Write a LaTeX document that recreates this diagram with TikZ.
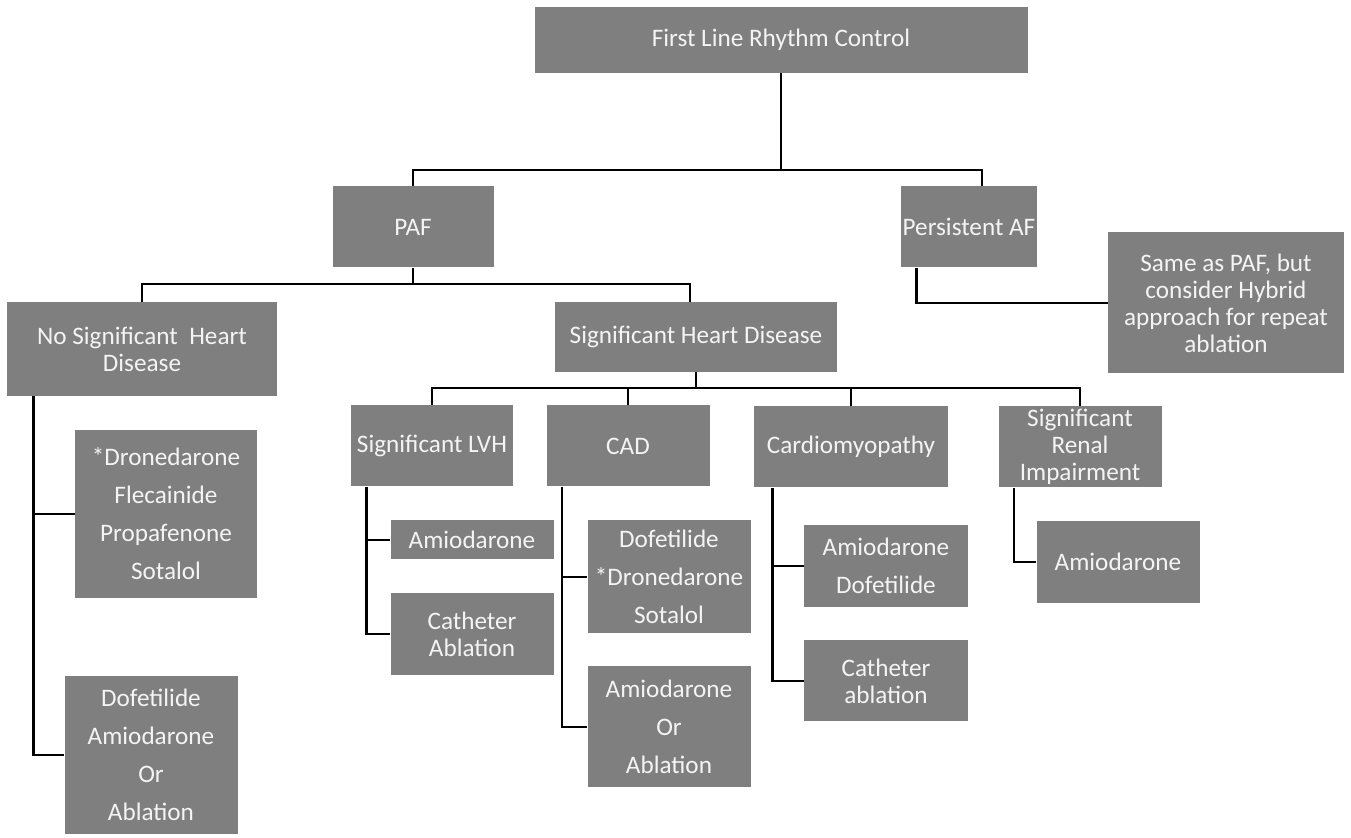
\documentclass[tikz,border=0pt]{standalone}
\usepackage{fontspec}
\setmainfont{Carlito}
\usepackage{tikz}
\usetikzlibrary{positioning, calc}
\definecolor{boxgray}{RGB}{127,127,127}
\definecolor{boxtext}{RGB}{244,244,244}
\tikzset{
  block/.style={rectangle, fill=boxgray, text=boxtext, align=center,
    inner sep=1pt, font=\fontsize{12.6}{13.5}\selectfont},
  listblock/.style={block, font=\fontsize{12.6}{19}\selectfont},
  link/.style={line width=1.3pt, color=black},
}

\begin{document}
\begin{tikzpicture}[x=0.5pt, y=-0.5pt]
  \useasboundingbox (0,0) rectangle (1351,838);

  % levels one and two
  \node[block, minimum width=246.5pt, minimum height=33pt] (top) at (781,40)
    {First Line Rhythm Control};
  \node[block, minimum width=80.5pt, minimum height=40.5pt] (paf) at (413,227) {PAF};
  \node[block, minimum width=68pt, minimum height=40.5pt] (persaf) at (969,227)
    {Persistent AF};
  \node[block, minimum width=118pt, minimum height=70.5pt] (same) at (1226,303)
    {Same as PAF, but\\consider Hybrid\\approach for repeat\\ablation};

  % PAF branches
  \node[block, minimum width=135pt, minimum height=47pt] (nosig) at (142,349)
    {No Significant~ Heart\\Disease};
  \node[block, minimum width=141pt, minimum height=35pt] (sighd) at (696,337)
    {Significant Heart Disease};
  \node[listblock, minimum width=91pt, minimum height=84pt] (nolista) at (166,514)
    {*Dronedarone\\Flecainide\\Propafenone\\Sotalol};
  \node[listblock, minimum width=86.5pt, minimum height=79pt] (nolistb) at (151,755)
    {Dofetilide\\Amiodarone\\Or\\Ablation};

  % significant heart disease groups
  \node[block, minimum width=81pt, minimum height=40.5pt] (lvh) at (432,446)
    {Significant LVH};
  \node[block, minimum width=81.5pt, minimum height=40.5pt] (cad) at (628,446) {CAD};
  \node[block, minimum width=97pt, minimum height=40.5pt] (cardio) at (851,447)
    {Cardiomyopathy};
  \node[block, minimum width=81.5pt, minimum height=40.5pt] (renal) at (1080,447)
    {Significant\\Renal\\Impairment};

  % drugs per group
  \node[block, minimum width=81.5pt, minimum height=19.5pt] (lvhamio) at (472,540)
    {Amiodarone};
  \node[block, minimum width=81.5pt, minimum height=41pt] (lvhabl) at (472,634)
    {Catheter\\Ablation};
  \node[listblock, minimum width=81.5pt, minimum height=56.5pt] (cadlist) at (669,577)
    {Dofetilide\\*Dronedarone\\Sotalol};
  \node[listblock, minimum width=81.5pt, minimum height=60.5pt] (cadabl) at (669,727)
    {Amiodarone\\Or\\Ablation};
  \node[listblock, minimum width=82pt, minimum height=41pt] (cardiolist) at (886,566)
    {Amiodarone\\Dofetilide};
  \node[block, minimum width=82pt, minimum height=40.5pt] (cardioabl) at (886,681)
    {Catheter\\ablation};
  \node[block, minimum width=81.5pt, minimum height=41pt] (renalamio) at (1118,562)
    {Amiodarone};

  % connectors
  \coordinate (busa) at (0,170);
  \coordinate (busb) at (0,284);
  \coordinate (busc) at (0,388);
  \coordinate (persdrop) at ([xshift=6.5pt]persaf.north);
  \coordinate (sigdrop) at ([xshift=-3pt]sighd.north);
  \draw[link] (top.south) -- (top.south |- busa);
  \draw[link] (paf.north) |- (busa -| persdrop) -- (persdrop);
  \draw[link] ([xshift=8pt]persaf.south west) |- (same.west);

  \draw[link] (paf.south) -- (paf.south |- busb);
  \draw[link] (nosig.north) |- (busb -| sigdrop) -- (sigdrop);

  \draw[link] (sighd.south) -- (sighd.south |- busc);
  \draw[link] (lvh.north) |- (busc -| renal.north) -- (renal.north);
  \draw[link] (cad.north) -- (cad.north |- busc);
  \draw[link] (cardio.north) -- (cardio.north |- busc);

  \coordinate (nospine) at ([xshift=13.5pt]nosig.south west);
  \draw[link] (nospine) |- (nolistb.west);
  \draw[link] (nospine |- nolista.west) -- (nolista.west);

  \coordinate (lvhspine) at ([xshift=8pt]lvh.south west);
  \draw[link] (lvhspine) |- (lvhabl.west);
  \draw[link] (lvhspine |- lvhamio.west) -- (lvhamio.west);

  \coordinate (cadspine) at ([xshift=8pt]cad.south west);
  \draw[link] (cadspine) |- (cadabl.west);
  \draw[link] (cadspine |- cadlist.west) -- (cadlist.west);

  \coordinate (cardiospine) at ([xshift=9.5pt]cardio.south west);
  \draw[link] (cardiospine) |- (cardioabl.west);
  \draw[link] (cardiospine |- cardiolist.west) -- (cardiolist.west);

  \draw[link] ([xshift=8pt]renal.south west) |- (renalamio.west);
\end{tikzpicture}
\end{document}
